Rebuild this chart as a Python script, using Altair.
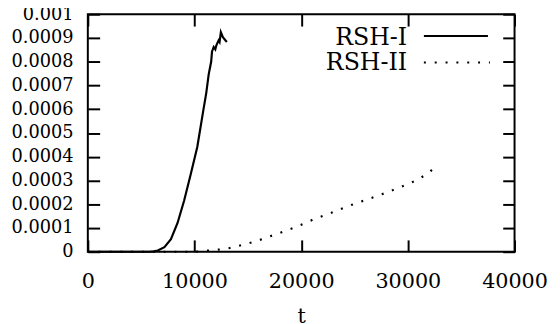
import altair as alt
import pandas as pd

# ---- data ----
t_rsh1 = [0, 5000, 5800, 6200, 6560, 7180, 7790, 8410, 9030, 9640, 10260, 10810,
          11100, 11330, 11560, 11640, 11800, 11950, 12050, 12260, 12350, 12470, 12660, 13030]
v_rsh1 = [0, 0, 0, 0.0000015, 0.0000053, 0.000019, 0.000053, 0.000121, 0.000216, 0.000325,
          0.000441, 0.000591, 0.000668, 0.000747, 0.000800, 0.000842, 0.000862, 0.000852,
          0.000869, 0.000890, 0.000883, 0.000924, 0.000903, 0.000883]

t_rsh2 = [0, 9500, 10500, 11335, 12400, 13580, 15730, 17550, 19430, 21250, 22820, 24390,
          26120, 27810, 29350, 30830, 31960, 32420, 32890]
v_rsh2 = [0, 0, 0.000001, 0.0000053, 0.0000094, 0.0000176, 0.0000437, 0.0000722, 0.000103,
          0.000138, 0.000164, 0.000192, 0.000219, 0.000246, 0.000273, 0.000301, 0.000332,
          0.000352, 0.000350]

series_names = ["RSH-I", "RSH-II"]
x_ticks = [0, 10000, 20000, 30000, 40000]
y_ticks = [round(i * 0.0001, 4) for i in range(11)]
x_title = "t"

FONT = "DejaVu Serif"

df1 = pd.DataFrame({"t": t_rsh1, "v": v_rsh1})
df2 = pd.DataFrame({"t": t_rsh2, "v": v_rsh2})

xscale = alt.Scale(domain=[0, 40000], nice=False, zero=False)
yscale = alt.Scale(domain=[0, 0.001], nice=False, zero=False)

tick_common = dict(offset=-12, tickSize=12, tickWidth=2, tickColor="black",
                   domain=False, grid=False)

x_bottom = alt.Axis(orient="bottom", values=x_ticks, format="d", labelPadding=19,
                    labelFont=FONT, labelFontSize=21, labelColor="black",
                    labelFlush=False, labelOverlap=False, labelBound=False,
                    title=x_title, titleFont=FONT, titleFontSize=21,
                    titleFontWeight="normal", titleColor="black", titlePadding=15,
                    **tick_common)
y_left = alt.Axis(orient="left", values=y_ticks, format="~g", labelPadding=15,
                  labelFont=FONT, labelFontSize=18, labelColor="black",
                  labelFlush=False, labelOverlap=False, labelBound=False,
                  title=None, **tick_common)
x_top = alt.Axis(orient="top", values=x_ticks, labels=False, title=None, **tick_common)
y_right = alt.Axis(orient="right", values=y_ticks, labels=False, title=None, **tick_common)

line1 = alt.Chart(df1).mark_line(color="black", strokeWidth=2.2).encode(
    x=alt.X("t:Q", scale=xscale, axis=x_bottom),
    y=alt.Y("v:Q", scale=yscale, axis=y_left),
)
line2 = alt.Chart(df2).mark_line(color="black", strokeWidth=2.2, strokeDash=[2, 9],
                                 strokeCap="butt").encode(
    x=alt.X("t:Q", scale=xscale, axis=x_top),
    y=alt.Y("v:Q", scale=yscale, axis=y_right),
)

lab_df1 = pd.DataFrame({"name": [series_names[0]]})
lab_df2 = pd.DataFrame({"name": [series_names[1]]})

leg_text1 = alt.Chart(lab_df1).mark_text(align="right", baseline="middle", font=FONT,
                                          fontSize=24, color="black").encode(
    x=alt.value(324), y=alt.value(24), text="name:N")
leg_text2 = alt.Chart(lab_df2).mark_text(align="right", baseline="middle", font=FONT,
                                          fontSize=24, color="black").encode(
    x=alt.value(324), y=alt.value(50), text="name:N")
leg_line1 = alt.Chart(lab_df1).mark_rule(color="black", strokeWidth=2).encode(
    x=alt.value(341), x2=alt.value(406), y=alt.value(22))
leg_line2 = alt.Chart(lab_df2).mark_rule(color="black", strokeWidth=2, strokeDash=[2, 9],
                                          strokeCap="butt").encode(
    x=alt.value(341), x2=alt.value(408), y=alt.value(49))

chart = alt.layer(line1, line2, leg_text1, leg_text2, leg_line1, leg_line2).resolve_axis(
    x="independent", y="independent"
).properties(
    width=433, height=241,
    autosize=alt.AutoSizeParams(type="none"),
    padding={"left": 81, "top": 4, "right": 38, "bottom": 71},
    background="white",
).configure_view(stroke="black", strokeWidth=2)

chart.save("out.html", embed_options={"renderer": "svg", "actions": False})
